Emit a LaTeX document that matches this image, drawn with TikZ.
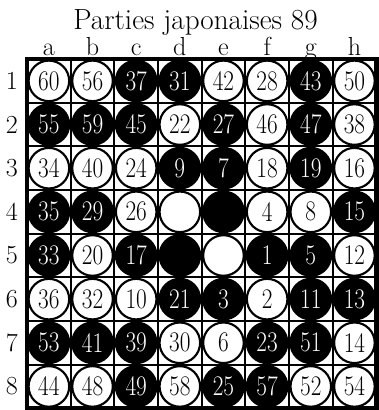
\documentclass[tikz,border=0pt]{standalone}
\usepackage{tikz}
\usetikzlibrary{positioning}

\tikzset{
  stone/.style={circle, draw, line width=1.4pt, minimum size=0.93cm,
                inner sep=0pt, font=\fontsize{18.5}{18}\selectfont},
  stone w/.style={stone, fill=white},
  stone b/.style={stone, fill=black, text=white},
  lbl/.style={font=\fontsize{17}{20}\selectfont, inner sep=0pt},
}

\begin{document}
\begin{tikzpicture}
  \useasboundingbox (-0.62,-8.04) rectangle (8.04,1.353);

  \node[lbl, anchor=base, font=\fontsize{19}{20}\selectfont] (title) at (3.86,0.68)
    {Parties japonaises 89};

  % board
  \draw[line width=1.3pt] (0,0) grid (8,-8);
  \draw[line width=3pt] (0,0) rectangle (8,-8);

  % files and ranks
  \foreach \f [count=\c] in {a,b,c,d,e,f,g,h}
    \node[lbl, anchor=base] (col-\f) at (\c-0.5,0.08) {\f};
  \foreach \r in {1,...,8}
    \node[lbl] (row-\r) at (-0.35,-\r+0.5) {\r};

  % stones: number/colour, one rank per line
  \foreach \r/\row in {
      1/{60/w,56/w,37/b,31/b,42/w,28/w,43/b,50/w},
      2/{55/b,59/b,45/b,22/w,27/b,46/w,47/b,38/w},
      3/{34/w,40/w,24/w,9/b,7/b,18/w,19/b,16/w},
      4/{35/b,29/b,26/w,{}/w,{}/b,4/w,8/w,15/b},
      5/{33/b,20/w,17/b,{}/b,{}/w,1/b,5/b,12/w},
      6/{36/w,32/w,10/w,21/b,3/b,2/w,11/b,13/b},
      7/{53/b,41/b,39/b,30/w,6/w,23/b,51/b,14/w},
      8/{44/w,48/w,49/b,58/w,25/b,57/b,52/w,54/w}}
    \foreach \n/\s [count=\c] in \row
      \node[stone \s] (sq-\c-\r) at (\c-0.5,-\r+0.5) {\scalebox{0.82}[1]{\n}};
\end{tikzpicture}
\end{document}
